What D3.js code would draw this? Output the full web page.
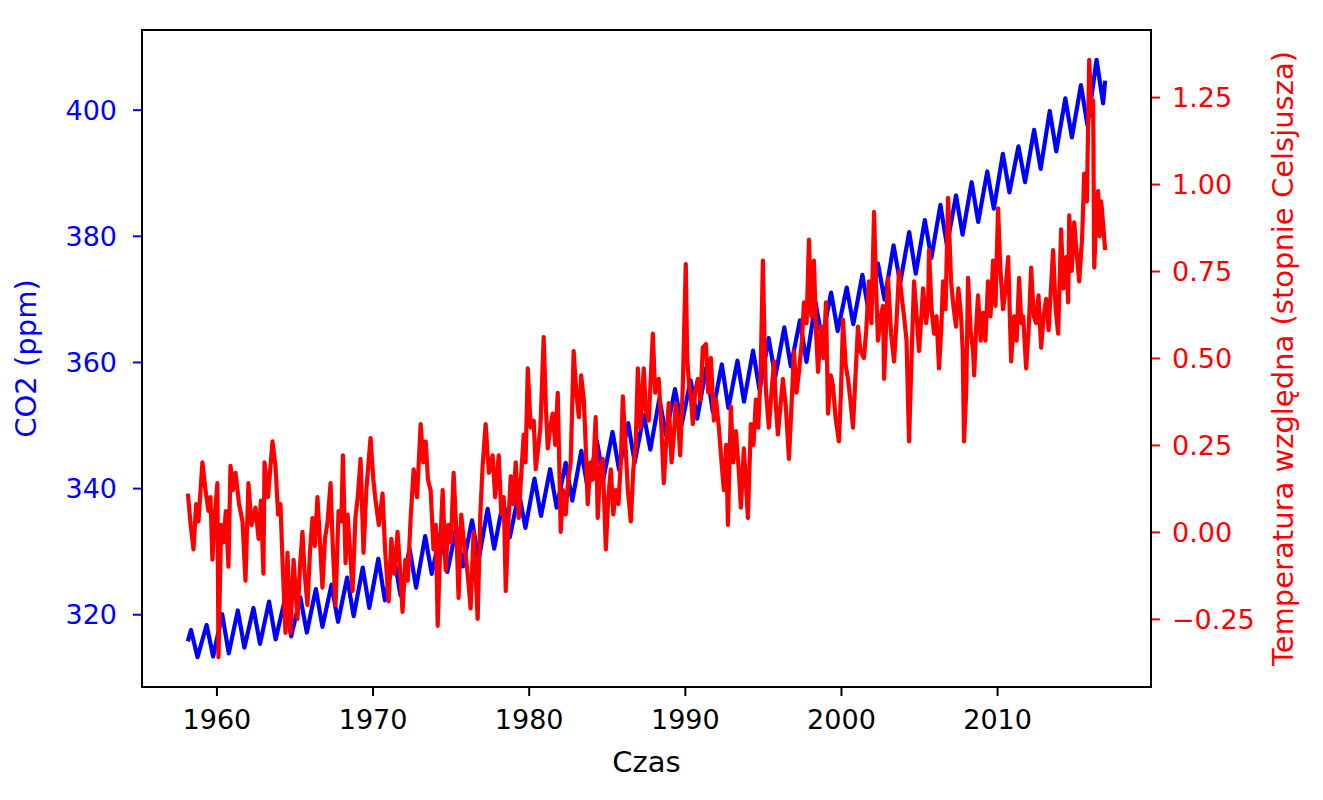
<!DOCTYPE html>
<html>
<head>
<meta charset="utf-8">
<script src="https://cdn.jsdelivr.net/npm/d3@7"></script>
<style>
  body { margin: 0; background: #fff; }
  text { font-family: "DejaVu Sans", sans-serif; }
</style>
</head>
<body>
<div id="chart"></div>
<script>
// CO2 (ppm): one seasonal peak (May) and one trough (Oct) per year
const co2Years = d3.range(1958, 2017);
const co2Peak = [
  317.5, 318.3, 320.0, 320.6, 321.0, 322.0, 322.2, 322.7, 324.0, 324.7,
  325.8, 327.4, 328.8, 329.1, 330.4, 332.4, 333.1, 333.9, 334.9, 336.7,
  338.0, 339.3, 341.5, 343.0, 344.0, 345.9, 347.4, 348.9, 350.3, 351.6,
  354.2, 355.7, 357.1, 359.1, 359.6, 360.2, 361.8, 363.8, 365.5, 366.6,
  369.5, 371.0, 371.8, 373.8, 375.6, 378.5, 380.6, 382.5, 384.9, 386.4,
  388.5, 390.2, 393.0, 394.2, 396.8, 399.8, 401.8, 403.9, 407.9
];
const co2Trough = [
  313.2, 313.3, 313.8, 314.7, 315.3, 316.0, 316.5, 317.1, 318.0, 318.8,
  319.7, 321.0, 322.2, 323.0, 324.2, 326.4, 326.7, 327.6, 328.6, 330.4,
  332.2, 333.7, 335.6, 336.9, 338.0, 339.8, 341.5, 342.9, 344.1, 346.1,
  348.4, 350.0, 351.0, 352.1, 352.7, 353.7, 355.5, 357.6, 359.3, 360.0,
  363.6, 364.9, 366.0, 367.8, 369.9, 372.5, 374.0, 376.5, 378.5, 380.2,
  382.2, 384.3, 386.9, 388.5, 390.6, 393.4, 395.6, 397.5, 401.0
];
const co2Start = [1958.17, 315.7];
const co2End = [2016.92, 404.6];

// Relative temperature (deg C)
const tempDates = [
  1958.17, 1958.35, 1958.53, 1958.70, 1958.85, 1959.10, 1959.30, 1959.49, 1959.62, 1959.74,
  1959.90, 1960.06, 1960.13, 1960.30, 1960.45, 1960.60, 1960.77, 1960.90, 1961.05, 1961.22,
  1961.45, 1961.67, 1961.86, 1962.05, 1962.25, 1962.50, 1962.70, 1962.85, 1963.01, 1963.08,
  1963.30, 1963.59, 1963.78, 1963.95, 1964.10, 1964.23, 1964.42, 1964.55, 1964.74, 1964.94,
  1965.19, 1965.35, 1965.51, 1965.65, 1965.83, 1966.00, 1966.15, 1966.30, 1966.47, 1966.62,
  1966.79, 1966.95, 1967.12, 1967.31, 1967.45, 1967.63, 1967.82, 1968.00, 1968.10, 1968.27,
  1968.40, 1968.55, 1968.72, 1968.90, 1969.05, 1969.23, 1969.42, 1969.60, 1969.87, 1970.05,
  1970.19, 1970.40, 1970.64, 1970.80, 1971.03, 1971.20, 1971.40, 1971.60, 1971.75, 1971.92,
  1972.10, 1972.25, 1972.44, 1972.63, 1972.85, 1973.08, 1973.25, 1973.40, 1973.55, 1973.72,
  1973.90, 1974.05, 1974.17, 1974.35, 1974.49, 1974.68, 1974.85, 1975.02, 1975.19, 1975.35,
  1975.51, 1975.68, 1975.83, 1976.00, 1976.15, 1976.28, 1976.47, 1976.60, 1976.73, 1976.90,
  1977.05, 1977.24, 1977.45, 1977.69, 1977.85, 1978.08, 1978.25, 1978.40, 1978.53, 1978.70,
  1978.85, 1979.00, 1979.17, 1979.36, 1979.50, 1979.68, 1979.80, 1979.94, 1980.13, 1980.32,
  1980.45, 1980.58, 1980.75, 1980.96, 1981.10, 1981.22, 1981.38, 1981.54, 1981.70, 1981.86,
  1982.05, 1982.20, 1982.37, 1982.53, 1982.69, 1982.88, 1983.05, 1983.21, 1983.36, 1983.53,
  1983.65, 1983.78, 1983.95, 1984.10, 1984.29, 1984.42, 1984.58, 1984.74, 1984.94, 1985.10,
  1985.26, 1985.42, 1985.58, 1985.75, 1985.90, 1986.03, 1986.20, 1986.35, 1986.54, 1986.70,
  1986.85, 1986.99, 1987.15, 1987.37, 1987.50, 1987.69, 1987.95, 1988.10, 1988.33, 1988.50,
  1988.65, 1988.80, 1988.97, 1989.15, 1989.30, 1989.42, 1989.60, 1989.70, 1989.87, 1990.06,
  1990.15, 1990.26, 1990.40, 1990.51, 1990.65, 1990.83, 1991.00, 1991.15, 1991.35, 1991.50,
  1991.67, 1991.86, 1992.00, 1992.18, 1992.35, 1992.50, 1992.65, 1992.76, 1992.95, 1993.10,
  1993.27, 1993.45, 1993.59, 1993.78, 1993.90, 1994.04, 1994.23, 1994.40, 1994.55, 1994.70,
  1994.85, 1995.00, 1995.10, 1995.19, 1995.38, 1995.55, 1995.71, 1995.85, 1995.96, 1996.10,
  1996.28, 1996.47, 1996.67, 1996.85, 1996.99, 1997.15, 1997.31, 1997.50, 1997.63, 1997.80,
  1997.95, 1998.10, 1998.21, 1998.27, 1998.40, 1998.53, 1998.72, 1998.88, 1999.04, 1999.17,
  1999.35, 1999.49, 1999.65, 1999.87, 2000.00, 2000.13, 2000.30, 2000.45, 2000.60, 2000.77,
  2000.92, 2001.09, 2001.25, 2001.47, 2001.62, 2001.79, 2001.95, 2002.12, 2002.25, 2002.37,
  2002.55, 2002.69, 2002.76, 2002.90, 2003.01, 2003.21, 2003.40, 2003.55, 2003.72, 2003.88,
  2004.04, 2004.20, 2004.36, 2004.52, 2004.68, 2004.85, 2005.00, 2005.15, 2005.26, 2005.45,
  2005.58, 2005.64, 2005.80, 2005.96, 2006.12, 2006.28, 2006.42, 2006.54, 2006.70, 2006.86,
  2007.05, 2007.20, 2007.37, 2007.52, 2007.69, 2007.80, 2007.88, 2008.02, 2008.14, 2008.30,
  2008.46, 2008.53, 2008.65, 2008.78, 2008.95, 2009.10, 2009.25, 2009.42, 2009.58, 2009.74,
  2009.90, 2010.06, 2010.22, 2010.38, 2010.55, 2010.71, 2010.90, 2011.09, 2011.25, 2011.41,
  2011.55, 2011.67, 2011.86, 2012.02, 2012.18, 2012.35, 2012.50, 2012.65, 2012.82, 2012.98,
  2013.14, 2013.30, 2013.45, 2013.59, 2013.75, 2013.91, 2014.10, 2014.25, 2014.42, 2014.55,
  2014.62, 2014.78, 2014.94, 2015.10, 2015.26, 2015.45, 2015.58, 2015.75, 2015.90, 2016.05,
  2016.15, 2016.22, 2016.35, 2016.47, 2016.57, 2016.67, 2016.80, 2016.92
];
const tempValues = [
  0.11, 0.02, -0.05, 0.08, 0.03, 0.20, 0.12, 0.06, 0.10, -0.08,
  0.05, 0.14, -0.36, 0.02, -0.03, 0.06, -0.10, 0.19, 0.12, 0.17,
  0.08, 0.03, -0.14, 0.14, 0.02, 0.07, -0.02, 0.09, -0.12, 0.20,
  0.10, 0.26, 0.19, 0.05, 0.08, -0.08, -0.29, -0.06, -0.29, -0.08,
  -0.25, -0.10, 0.00, -0.12, -0.21, -0.05, 0.04, -0.04, 0.10, -0.02,
  -0.16, -0.02, 0.03, 0.14, -0.04, -0.21, 0.06, 0.03, 0.22, -0.09,
  0.05, -0.05, -0.17, 0.04, 0.10, 0.21, -0.06, 0.12, 0.27, 0.15,
  0.09, 0.02, 0.11, -0.05, -0.20, -0.02, -0.12, 0.00, -0.10, -0.23,
  -0.08, -0.14, 0.04, 0.18, 0.10, 0.31, 0.20, 0.26, 0.15, 0.12,
  -0.05, 0.02, -0.27, -0.02, 0.12, -0.11, 0.02, -0.03, 0.17, 0.02,
  -0.19, 0.05, -0.02, -0.08, -0.15, -0.22, 0.00, -0.12, -0.25, 0.05,
  0.19, 0.31, 0.17, 0.22, 0.10, 0.22, 0.05, 0.10, -0.17, 0.03,
  0.16, 0.08, 0.20, 0.04, 0.15, 0.28, 0.20, 0.47, 0.30, 0.32,
  0.18, 0.23, 0.30, 0.56, 0.36, 0.24, 0.30, 0.34, 0.25, 0.40,
  0.00, 0.12, 0.05, 0.15, 0.20, 0.52, 0.40, 0.33, 0.45, 0.38,
  0.25, 0.08, 0.20, 0.15, 0.33, 0.04, 0.18, 0.21, -0.05, 0.10,
  0.18, 0.05, 0.12, 0.08, 0.20, 0.39, 0.25, 0.12, 0.03, 0.18,
  0.25, 0.47, 0.30, 0.47, 0.35, 0.32, 0.57, 0.40, 0.44, 0.30,
  0.14, 0.25, 0.37, 0.20, 0.28, 0.37, 0.30, 0.22, 0.42, 0.77,
  0.50, 0.43, 0.38, 0.31, 0.40, 0.44, 0.38, 0.53, 0.54, 0.40,
  0.50, 0.32, 0.38, 0.30, 0.20, 0.12, 0.25, 0.02, 0.36, 0.20,
  0.29, 0.18, 0.07, 0.24, 0.15, 0.04, 0.31, 0.25, 0.38, 0.30,
  0.45, 0.78, 0.55, 0.41, 0.30, 0.40, 0.49, 0.35, 0.28, 0.35,
  0.44, 0.36, 0.21, 0.38, 0.52, 0.40, 0.46, 0.55, 0.66, 0.60,
  0.84, 0.62, 0.67, 0.78, 0.58, 0.46, 0.59, 0.50, 0.66, 0.34,
  0.45, 0.42, 0.33, 0.26, 0.40, 0.61, 0.48, 0.44, 0.38, 0.30,
  0.44, 0.59, 0.52, 0.50, 0.58, 0.72, 0.60, 0.92, 0.70, 0.55,
  0.62, 0.65, 0.44, 0.60, 0.73, 0.57, 0.49, 0.60, 0.75, 0.68,
  0.62, 0.55, 0.26, 0.50, 0.72, 0.62, 0.52, 0.62, 0.70, 0.60,
  0.65, 0.81, 0.64, 0.57, 0.62, 0.47, 0.58, 0.72, 0.64, 0.96,
  0.72, 0.65, 0.59, 0.70, 0.62, 0.52, 0.26, 0.40, 0.73, 0.58,
  0.52, 0.45, 0.58, 0.68, 0.55, 0.63, 0.55, 0.72, 0.62, 0.78,
  0.65, 0.93, 0.75, 0.64, 0.70, 0.79, 0.49, 0.62, 0.55, 0.73,
  0.60, 0.62, 0.47, 0.58, 0.76, 0.62, 0.60, 0.68, 0.53, 0.62,
  0.67, 0.58, 0.70, 0.81, 0.64, 0.57, 0.87, 0.70, 0.79, 0.66,
  0.91, 0.75, 0.89, 0.80, 0.72, 0.85, 1.03, 0.95, 1.357, 1.20,
  1.24, 0.76, 0.90, 0.98, 0.85, 0.95, 0.88, 0.81
];

// Tick labels
const yearTicks = [1960, 1970, 1980, 1990, 2000, 2010];
const co2Ticks = [320, 340, 360, 380, 400];
const tempTicks = [-0.25, 0.00, 0.25, 0.50, 0.75, 1.00, 1.25];

// Build the series
const co2Data = [co2Start];
co2Years.forEach((yr, i) => {
    co2Data.push([yr + 0.37, co2Peak[i]]);
    co2Data.push([yr + 0.79, co2Trough[i]]);
});
co2Data.push(co2End);
const tempData = tempDates.map((t, i) => [t, tempValues[i]]);

// Plot frame
const W = 1323, H = 800;
const plot = { left: 142, right: 1151, top: 30, bottom: 687 };
const blue = "#0000ff", red = "#ff0000";
const tickFont = 27, labelFont = 29;

// matplotlib-like 5% padding
function padded(ext) {
    const r = ext[1] - ext[0];
    return [ext[0] - 0.05 * r, ext[1] + 0.05 * r];
}

const x = d3.scaleLinear()
    .domain(padded(d3.extent(co2Data.concat(tempData), d => d[0])))
    .range([plot.left, plot.right]);
const yCo2 = d3.scaleLinear()
    .domain(padded(d3.extent(co2Data, d => d[1])))
    .range([plot.bottom, plot.top]);
const yTemp = d3.scaleLinear()
    .domain(padded(d3.extent(tempData, d => d[1])))
    .range([plot.bottom, plot.top]);

const svg = d3.select("#chart")
    .append("svg")
    .attr("width", W)
    .attr("height", H)
    .style("background", "#fff");

// Lines (temperature drawn on top)
svg.append("path")
    .datum(co2Data)
    .attr("fill", "none")
    .attr("stroke", blue)
    .attr("stroke-width", 4.2)
    .attr("stroke-linejoin", "round")
    .attr("d", d3.line().x(d => x(d[0])).y(d => yCo2(d[1])));

svg.append("path")
    .datum(tempData)
    .attr("fill", "none")
    .attr("stroke", red)
    .attr("stroke-width", 4.2)
    .attr("stroke-linejoin", "round")
    .attr("d", d3.line().x(d => x(d[0])).y(d => yTemp(d[1])));

// Axes
function styleAxis(g, color) {
    g.select(".domain").remove();
    g.selectAll(".tick line").attr("stroke", color).attr("stroke-width", 2);
    g.selectAll(".tick text")
        .attr("fill", color)
        .style("font-size", tickFont + "px")
        .style("font-family", "'DejaVu Sans', sans-serif");
}

const xAxis = svg.append("g")
    .attr("transform", `translate(0,${plot.bottom})`)
    .call(d3.axisBottom(x).tickValues(yearTicks).tickFormat(d3.format("d")).tickSize(9));
styleAxis(xAxis, "#000");
xAxis.selectAll(".tick text").attr("y", 42).attr("dy", 0);

const leftAxis = svg.append("g")
    .attr("transform", `translate(${plot.left},0)`)
    .call(d3.axisLeft(yCo2).tickValues(co2Ticks).tickFormat(d3.format("d")).tickSize(9));
styleAxis(leftAxis, blue);
leftAxis.selectAll(".tick text").attr("x", -25).attr("dy", "0.36em");

const rightAxis = svg.append("g")
    .attr("transform", `translate(${plot.right},0)`)
    .call(d3.axisRight(yTemp).tickValues(tempTicks).tickFormat(d3.format(".2f")).tickSize(9));
styleAxis(rightAxis, red);
rightAxis.selectAll(".tick text").attr("x", 21).attr("dy", "0.36em");

// Frame (spines)
svg.append("rect")
    .attr("x", plot.left)
    .attr("y", plot.top)
    .attr("width", plot.right - plot.left)
    .attr("height", plot.bottom - plot.top)
    .attr("fill", "none")
    .attr("stroke", "#000")
    .attr("stroke-width", 2);

// Axis labels
svg.append("text")
    .attr("x", (plot.left + plot.right) / 2)
    .attr("y", 772)
    .attr("text-anchor", "middle")
    .style("font-size", labelFont + "px")
    .attr("fill", "#000")
    .text("Czas");

svg.append("text")
    .attr("transform", `translate(36,${(plot.top + plot.bottom) / 2}) rotate(-90)`)
    .attr("text-anchor", "middle")
    .style("font-size", labelFont + "px")
    .attr("fill", blue)
    .text("CO2 (ppm)");

svg.append("text")
    .attr("transform", `translate(1293,${(plot.top + plot.bottom) / 2}) rotate(-90)`)
    .attr("text-anchor", "middle")
    .style("font-size", labelFont + "px")
    .attr("fill", red)
    .text("Temperatura względna (stopnie Celsjusza)");
</script>
</body>
</html>
